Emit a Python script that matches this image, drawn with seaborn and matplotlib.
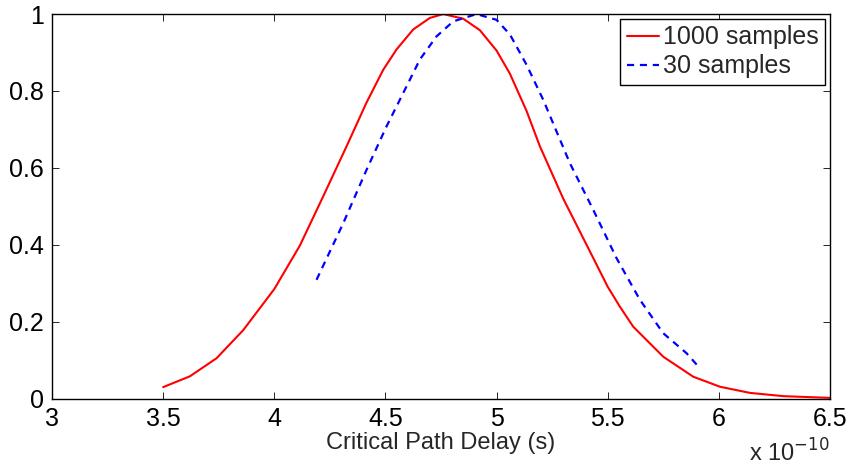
import matplotlib
matplotlib.use("Agg")
import matplotlib.pyplot as plt
import seaborn as sns
import pandas as pd

# Normalized critical path delay distributions (delay in units of 1e-10 s)
delay_1000 = [3.50, 3.62, 3.74, 3.86, 4.00, 4.115, 4.22, 4.325, 4.415, 4.49,
              4.55, 4.625, 4.70, 4.76, 4.85, 4.925, 5.00, 5.06, 5.135, 5.195,
              5.30, 5.405, 5.50, 5.555, 5.615, 5.75, 5.885, 6.005, 6.14, 6.29,
              6.50]
density_1000 = [0.030, 0.058, 0.105, 0.178, 0.285, 0.398, 0.526, 0.656, 0.770,
                0.855, 0.908, 0.960, 0.990, 1.000, 0.988, 0.958, 0.905, 0.845,
                0.748, 0.656, 0.520, 0.400, 0.291, 0.239, 0.187, 0.109, 0.057,
                0.031, 0.015, 0.0065, 0.002]

delay_30 = [4.19, 4.31, 4.415, 4.505, 4.595, 4.655, 4.73, 4.805, 4.91, 5.00,
            5.06, 5.135, 5.21, 5.33, 5.435, 5.54, 5.645, 5.75, 5.855, 5.915]
density_30 = [0.309, 0.456, 0.595, 0.708, 0.812, 0.882, 0.942, 0.981, 1.000,
              0.985, 0.947, 0.868, 0.777, 0.612, 0.491, 0.365, 0.257, 0.170,
              0.118, 0.079]

x_ticks = [3, 3.5, 4, 4.5, 5, 5.5, 6, 6.5]
y_ticks = [0, 0.2, 0.4, 0.6, 0.8, 1]

sns.set_style("ticks")
plt.rcParams["font.family"] = ["Liberation Sans", "DejaVu Sans"]
plt.rcParams["axes.linewidth"] = 1.0

fig = plt.figure(figsize=(8.53, 4.69), dpi=100)
ax = fig.add_axes([0.061, 0.150, 0.912, 0.820])

df1 = pd.DataFrame({"delay": delay_1000, "density": density_1000})
df2 = pd.DataFrame({"delay": delay_30, "density": density_30})

sns.lineplot(data=df1, x="delay", y="density", ax=ax, color="#ff0000",
             linewidth=1.5, label="1000 samples")
sns.lineplot(data=df2, x="delay", y="density", ax=ax, color="#0000ff",
             linewidth=1.6, linestyle=(0, (3.2, 2.6)), label="30 samples")

ax.set_xlim(3, 6.5)
ax.set_ylim(0, 1)
ax.set_xticks(x_ticks)
ax.set_xticklabels([f"{t:g}" for t in x_ticks])
ax.set_yticks(y_ticks)
ax.set_yticklabels([f"{t:g}" for t in y_ticks])
ax.tick_params(direction="in", length=5, width=0.6, top=True, right=True,
               labelsize=18, pad=6, colors="black")
for s in ax.spines.values():
    s.set_visible(True)
    s.set_color("black")

ax.set_xlabel("Critical Path Delay (s)", fontsize=17, labelpad=1)
ax.set_ylabel("")

ax.text(1.0, -0.105, r"x 10$^{-10}$", transform=ax.transAxes, ha="right",
        va="top", fontsize=17)

leg = ax.legend(loc="upper right", fontsize=18, frameon=True, fancybox=False,
                edgecolor="black", framealpha=1, borderpad=0.25,
                handlelength=1.3, handletextpad=0.15, labelspacing=0.2,
                borderaxespad=0.2)
leg.get_frame().set_linewidth(1.0)

fig.savefig("out.png", dpi=100)
